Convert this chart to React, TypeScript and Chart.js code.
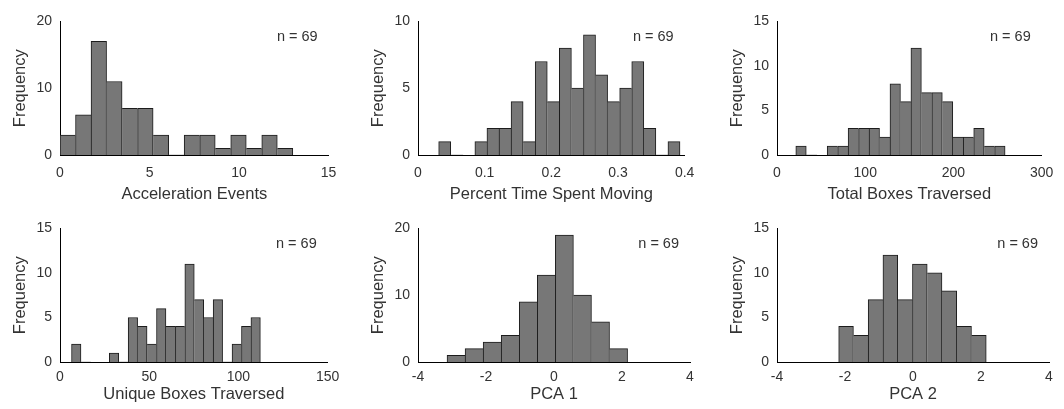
import React, { useEffect, useRef } from 'react';
import { Chart, registerables } from 'chart.js';

Chart.register(...registerables);

const FONT = '"Liberation Sans", Arial, Helvetica, sans-serif';
const SAMPLE_N = 69;

// Acceleration Events
const accelCounts = [3, 6, 17, 11, 7, 7, 3, 0, 3, 3, 1, 3, 1, 3, 1];
const accelBinStart = 0;
const accelBinWidth = 0.8667;

// Percent Time Spent Moving
const moveCounts = [1, 0, 0, 1, 2, 2, 4, 1, 7, 4, 8, 5, 9, 6, 4, 5, 7, 2, 0, 1];
const moveBinStart = 0.031;
const moveBinWidth = 0.0181;

// Total Boxes Traversed
const totalCounts = [1, 0, 0, 1, 1, 3, 3, 3, 2, 8, 6, 12, 7, 7, 6, 2, 2, 3, 1, 1];
const totalBinStart = 21.3;
const totalBinWidth = 11.86;

// Unique Boxes Traversed
const uniqueCounts = [2, 0, 0, 0, 1, 0, 5, 4, 2, 6, 4, 4, 11, 7, 5, 7, 0, 2, 4, 5];
const uniqueBinStart = 6.46;
const uniqueBinWidth = 5.29;

// PCA 1
const pca1Counts = [1, 2, 3, 4, 9, 13, 19, 10, 6, 2];
const pca1BinStart = -3.146;
const pca1BinWidth = 0.531;

// PCA 2
const pca2Counts = [4, 3, 7, 12, 7, 11, 10, 8, 4, 3];
const pca2BinStart = -2.186;
const pca2BinWidth = 0.434;

type Panel = {
  title: string;
  counts: number[];
  binStart: number;
  binWidth: number;
  xMin: number;
  xMax: number;
  xStep: number;
  yMax: number;
  yStep: number;
  ax0: number;
  ay0: number;
  row: number;
};

const PLOT_W = 272;
const PLOT_H = 135;
const Y_AXIS_W = 60;
const X_AXIS_H = 50;
const PAD_TOP = 15;
const PAD_RIGHT = 14;

const panels: Panel[] = [
  { title: 'Acceleration Events', counts: accelCounts, binStart: accelBinStart, binWidth: accelBinWidth, xMin: 0, xMax: 15, xStep: 5, yMax: 20, yStep: 10, ax0: 60, ay0: 20, row: 0 },
  { title: 'Percent Time Spent Moving', counts: moveCounts, binStart: moveBinStart, binWidth: moveBinWidth, xMin: 0, xMax: 0.4, xStep: 0.1, yMax: 10, yStep: 5, ax0: 418, ay0: 20, row: 0 },
  { title: 'Total Boxes Traversed', counts: totalCounts, binStart: totalBinStart, binWidth: totalBinWidth, xMin: 0, xMax: 300, xStep: 100, yMax: 15, yStep: 5, ax0: 777, ay0: 20, row: 0 },
  { title: 'Unique Boxes Traversed', counts: uniqueCounts, binStart: uniqueBinStart, binWidth: uniqueBinWidth, xMin: 0, xMax: 150, xStep: 50, yMax: 15, yStep: 5, ax0: 60, ay0: 227, row: 1 },
  { title: 'PCA 1', counts: pca1Counts, binStart: pca1BinStart, binWidth: pca1BinWidth, xMin: -4, xMax: 4, xStep: 2, yMax: 20, yStep: 10, ax0: 418, ay0: 227, row: 1 },
  { title: 'PCA 2', counts: pca2Counts, binStart: pca2BinStart, binWidth: pca2BinWidth, xMin: -4, xMax: 4, xStep: 2, yMax: 15, yStep: 5, ax0: 777, ay0: 227, row: 1 },
];

const TITLE_SIZE = 16.5;
const TICK_SIZE = 14;
const TEXT_COLOR = '#333';
// per row: x tick padding and x title bottom padding
const rowTickPad = [9.6, 6.6];
const rowTitlePad = [1.1, 8.1];

const nLabelPlugin = {
  id: 'nLabel',
  afterDraw(chart: any, _args: any, opts: any) {
    const { ctx, chartArea } = chart;
    ctx.save();
    ctx.font = `${opts.size}px ${FONT}`;
    ctx.fillStyle = opts.color;
    ctx.textAlign = 'right';
    ctx.textBaseline = 'middle';
    ctx.fillText(opts.text, chartArea.right - opts.dx, chartArea.top + opts.dy);
    ctx.restore();
  },
};

function Histogram({ p }: { p: Panel }) {
  const ref = useRef<HTMLCanvasElement | null>(null);
  const left = p.ax0 - Y_AXIS_W;
  const top = p.ay0 - PAD_TOP;
  const w = PLOT_W + Y_AXIS_W + PAD_RIGHT;
  const h = PLOT_H + PAD_TOP + X_AXIS_H;

  useEffect(() => {
    if (!ref.current) return;
    const counts = p.counts;
    const data = counts.map((c, i) => ({ x: p.binStart + (i + 0.5) * p.binWidth, y: c }));
    const chart = new Chart(ref.current, {
      type: 'bar',
      data: {
        datasets: [
          {
            data,
            backgroundColor: '#777777',
            borderColor: '#1c1c1c',
            borderWidth: (ctx: any) => {
              const i = ctx.dataIndex;
              const v = counts[i];
              const prev = i > 0 ? counts[i - 1] : 0;
              const next = i < counts.length - 1 ? counts[i + 1] : 0;
              return { top: 1, left: prev <= v ? 1 : 0, right: next < v ? 1 : 0, bottom: 0 };
            },
            borderSkipped: 'start',
            barPercentage: 1,
            categoryPercentage: 1,
          } as any,
        ],
      },
      options: {
        animation: false,
        responsive: false,
        maintainAspectRatio: false,
        layout: { padding: { left: 0, top: PAD_TOP, right: PAD_RIGHT, bottom: 0 } },
        plugins: {
          legend: { display: false },
          tooltip: { enabled: false },
          nLabel: { text: `n = ${SAMPLE_N}`, size: 14.5, color: TEXT_COLOR, dx: 11, dy: 16 },
        } as any,
        scales: {
          x: {
            type: 'linear',
            min: p.xMin,
            max: p.xMax,
            offset: false,
            grid: { display: false, drawTicks: false, offset: false },
            border: { display: true, color: '#000', width: 1 },
            ticks: {
              stepSize: p.xStep,
              maxRotation: 0,
              autoSkip: false,
              padding: rowTickPad[p.row],
              color: TEXT_COLOR,
              font: { family: FONT, size: TICK_SIZE },
            },
            title: {
              display: true,
              text: p.title,
              color: TEXT_COLOR,
              font: { family: FONT, size: TITLE_SIZE },
              padding: { top: 0, bottom: rowTitlePad[p.row] },
            },
            afterFit: (scale: any) => {
              scale.height = X_AXIS_H;
            },
          },
          y: {
            type: 'linear',
            min: 0,
            max: p.yMax,
            grid: { display: false, drawTicks: false },
            border: { display: true, color: '#000', width: 1 },
            ticks: {
              stepSize: p.yStep,
              padding: 8,
              color: TEXT_COLOR,
              font: { family: FONT, size: TICK_SIZE },
            },
            title: {
              display: true,
              text: 'Frequency',
              color: TEXT_COLOR,
              font: { family: FONT, size: TITLE_SIZE },
              padding: { top: 11, bottom: 0 },
            },
            afterFit: (scale: any) => {
              scale.width = Y_AXIS_W;
            },
          },
        } as any,
      },
      plugins: [nLabelPlugin as any],
    });
    return () => chart.destroy();
  }, [p]);

  return (
    <canvas
      ref={ref}
      width={w}
      height={h}
      style={{ position: 'absolute', left, top, width: w, height: h }}
    />
  );
}

export default function App() {
  return (
    <div
      style={{
        position: 'absolute',
        left: 0,
        top: 0,
        width: 1064,
        height: 409,
        overflow: 'hidden',
        background: '#fff',
      }}
    >
      {panels.map((p) => (
        <Histogram key={p.title} p={p} />
      ))}
    </div>
  );
}
